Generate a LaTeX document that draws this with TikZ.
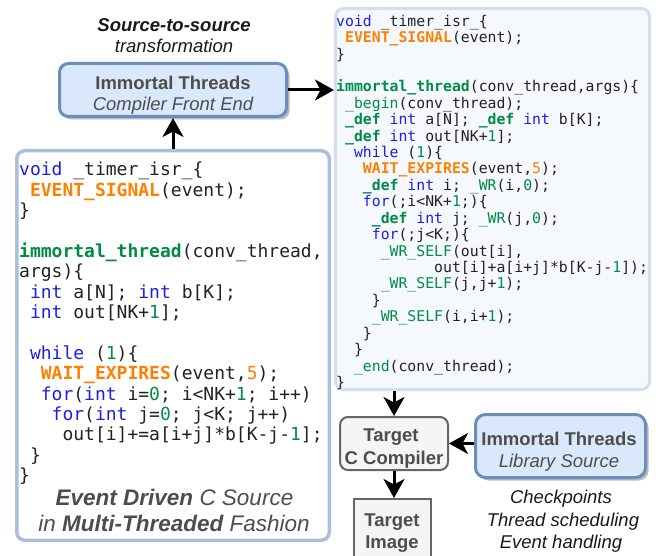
\documentclass[tikz,border=0pt]{standalone}
\usepackage{fontspec}
\usetikzlibrary{arrows.meta,shadows}
\setmainfont{Liberation Sans}
\newfontfamily\codefont{DejaVu Sans Mono}

% palette
\definecolor{kwblue}{RGB}{30,30,230}
\definecolor{thgreen}{RGB}{0,140,70}
\definecolor{evorange}{RGB}{255,128,0}
\definecolor{codeink}{HTML}{222222}
\definecolor{boxfill}{HTML}{DAE8FC}
\definecolor{boxline}{HTML}{6C8EBF}
\definecolor{srcline}{HTML}{A9BFDE}
\definecolor{outline}{HTML}{D3DFEE}
\definecolor{outfill}{HTML}{F5F9FD}
\definecolor{greyfill}{HTML}{F5F5F5}
\definecolor{greyline}{HTML}{666666}
\definecolor{labgrey}{HTML}{4D4D4D}

% syntax colouring for the code listings
\newcommand\kw[1]{\textcolor{kwblue}{#1}}
\newcommand\tg[1]{\textcolor{thgreen}{\textbf{#1}}}
\newcommand\gd[1]{\textcolor{thgreen}{\textbf{#1}}}
\newcommand\gw[1]{\textcolor{thgreen}{#1}}
\newcommand\nm[1]{\textcolor{thgreen}{#1}}
\newcommand\ev[1]{\textcolor{evorange}{\textbf{#1}}}
\newcommand\on[1]{\textcolor{evorange}{#1}}
\newcommand\labfont{\fontsize{18.5}{22}\selectfont}
\newcommand\biglabfont{\fontsize{22.5}{26}\selectfont}

\tikzset{
  blueblock/.style={draw=boxline, fill=boxfill, line width=3pt, rounded corners=9pt,
    inner sep=0pt, drop shadow={shadow xshift=3pt, shadow yshift=-3pt, fill=black!45, opacity=0.6}},
  greyblock/.style={draw=greyline, fill=greyfill, line width=2pt, inner sep=0pt},
  srcbox/.style={draw=srcline, fill=white, line width=3.5pt, rounded corners=8pt, inner sep=0pt},
  outbox/.style={draw=outline, fill=outfill, line width=3pt, rounded corners=8pt, inner sep=0pt},
  listing/.style={anchor=north west, inner sep=0pt, align=left, text=codeink},
  lab/.style={anchor=base, inner sep=0pt, font=\labfont},
  flow/.style={line width=3pt, -{Stealth[length=19pt, width=21pt, inset=5.5pt]}},
}

\begin{document}
\begin{tikzpicture}[x=1pt, y=-1pt]
\useasboundingbox (0,0) rectangle (656,556);
\clip (0,0) rectangle (656,556);

% ---- containers ----
\node[srcbox, minimum width=312.5pt, minimum height=389.5pt] (lbox) at (173,345.5) {};
\node[outbox, minimum width=314pt, minimum height=381pt] (rbox) at (492.5,199) {};
\node[blueblock, minimum width=227pt, minimum height=53pt] (fe) at (173,90) {};
\node[blueblock, minimum width=170pt, minimum height=63pt, rounded corners=10pt] (lib) at (560.5,446) {};
\node[greyblock, rounded corners=8pt, minimum width=108pt, minimum height=53pt] (cc) at (394,443.5) {};
\node[greyblock, minimum width=77pt, minimum height=72pt] (img) at (392.5,535) {};

% ---- titles ----
\node[lab, text=black!90] (t1) at (174,32) {\bfseries\itshape Source-to-source};
\node[lab, text=black!90] (t2) at (174,53) {\itshape transformation};

\node[lab, text=labgrey] (fe1) at (173,89.3) {\bfseries Immortal Threads};
\node[lab, text=labgrey] (fe2) at (173,111) {\itshape Compiler Front End};

\node[lab, text=labgrey] (lib1) at (559,445.7) {\bfseries Immortal Threads};
\node[lab, text=labgrey] (lib2) at (559,467.3) {\itshape Library Source};

\node[lab, text=labgrey] (cc1) at (391,441.7) {\bfseries Target};
\node[lab, text=labgrey] (cc2) at (394,464) {\bfseries C Compiler};

\node[lab, text=labgrey] (img1) at (392,526) {\bfseries Target};
\node[lab, text=labgrey] (img2) at (392,548.3) {\bfseries Image};

\node[lab, text=black!90] (rt1) at (561,503.3) {\itshape Checkpoints};
\node[lab, text=black!90] (rt2) at (563,526.3) {\itshape Thread scheduling};
\node[lab, text=black!90] (rt3) at (561,548.3) {\itshape Event handling};

\node[lab, font=\biglabfont, text=labgrey] (lb1) at (174.5,505) {\bfseries\itshape Event Driven \mdseries C Source};
\node[lab, font=\biglabfont, text=labgrey] (lb2) at (174,531.5) {\itshape in \bfseries Multi-Threaded \mdseries Fashion};

% ---- event-driven C source ----
\node[listing, font=\codefont\fontsize{18}{20.4}\selectfont] (lcode) at (19,160.5) {\rule{0pt}{15pt}%
\kw{void} \_timer\_isr\_\{\\
~\ev{EVENT\_SIGNAL}(event);\\
\}\\
~\\
\tg{immortal\_thread}(conv\_thread,\\
args)\{\\
~\kw{int} a[N]; \kw{int} b[K];\\
~\kw{int} out[NK+\nm{1}];\\
~\\
~\kw{while} (\nm{1})\{\\
~~\ev{WAIT\_EXPIRES}(event,\on{5});\\
~~\kw{for}(\kw{int} i=\nm{0}; i<NK+\nm{1}; i++)\\
~~~\kw{for}(\kw{int} j=\nm{0}; j<K; j++)\\
~~~~out[i]+=a[i+j]*b[K-j-\nm{1}];\\
~\}\\
\}};

% ---- transformed source ----
\node[listing, font=\codefont\fontsize{14.8}{16.42}\selectfont] (rcode) at (336,14) {\rule{0pt}{12pt}%
\kw{void} \_timer\_isr\_\{\\
~\ev{EVENT\_SIGNAL}(event);\\
\}\\
~\\
\tg{immortal\_thread}(conv\_thread,args)\{\\
~\gw{\_begin}(conv\_thread);\\
~\gd{\_def} \kw{int} a[N]; \gd{\_def} \kw{int} b[K];\\
~\gd{\_def} \kw{int} out[NK+\nm{1}];\\
~~\kw{while} (\nm{1})\{\\
~~~\ev{WAIT\_EXPIRES}(event,\on{5});\\
~~~\gd{\_def} \kw{int} i; \gw{\_WR}(i,\nm{0});\\
~~~\kw{for}(;i<NK+\nm{1};)\{\\
~~~~\gd{\_def} \kw{int} j; \gw{\_WR}(j,\nm{0});\\
~~~~\kw{for}(;j<K;)\{\\
~~~~~\gw{\_WR\_SELF}(out[i],\\
~~~~~~~~~~~out[i]+a[i+j]*b[K-j-\nm{1}]);\\
~~~~~\gw{\_WR\_SELF}(j,j+\nm{1});\\
~~~~\}\\
~~~~\gw{\_WR\_SELF}(i,i+\nm{1});\\
~~~\}\\
~~\}\\
~~\gw{\_end}(conv\_thread);\\
\}};

% ---- flow ----
\draw[flow] (lbox.north) -- (fe.south);
\draw[flow] (fe.east) -- (fe.east -| rbox.west);
\draw[flow] (cc.north |- rbox.south) -- (cc.north);
\draw[flow] (cc.east -| lib.west) -- (cc.east);
\draw[flow] (cc.south) -- (cc.south |- img.north);
\end{tikzpicture}
\end{document}
